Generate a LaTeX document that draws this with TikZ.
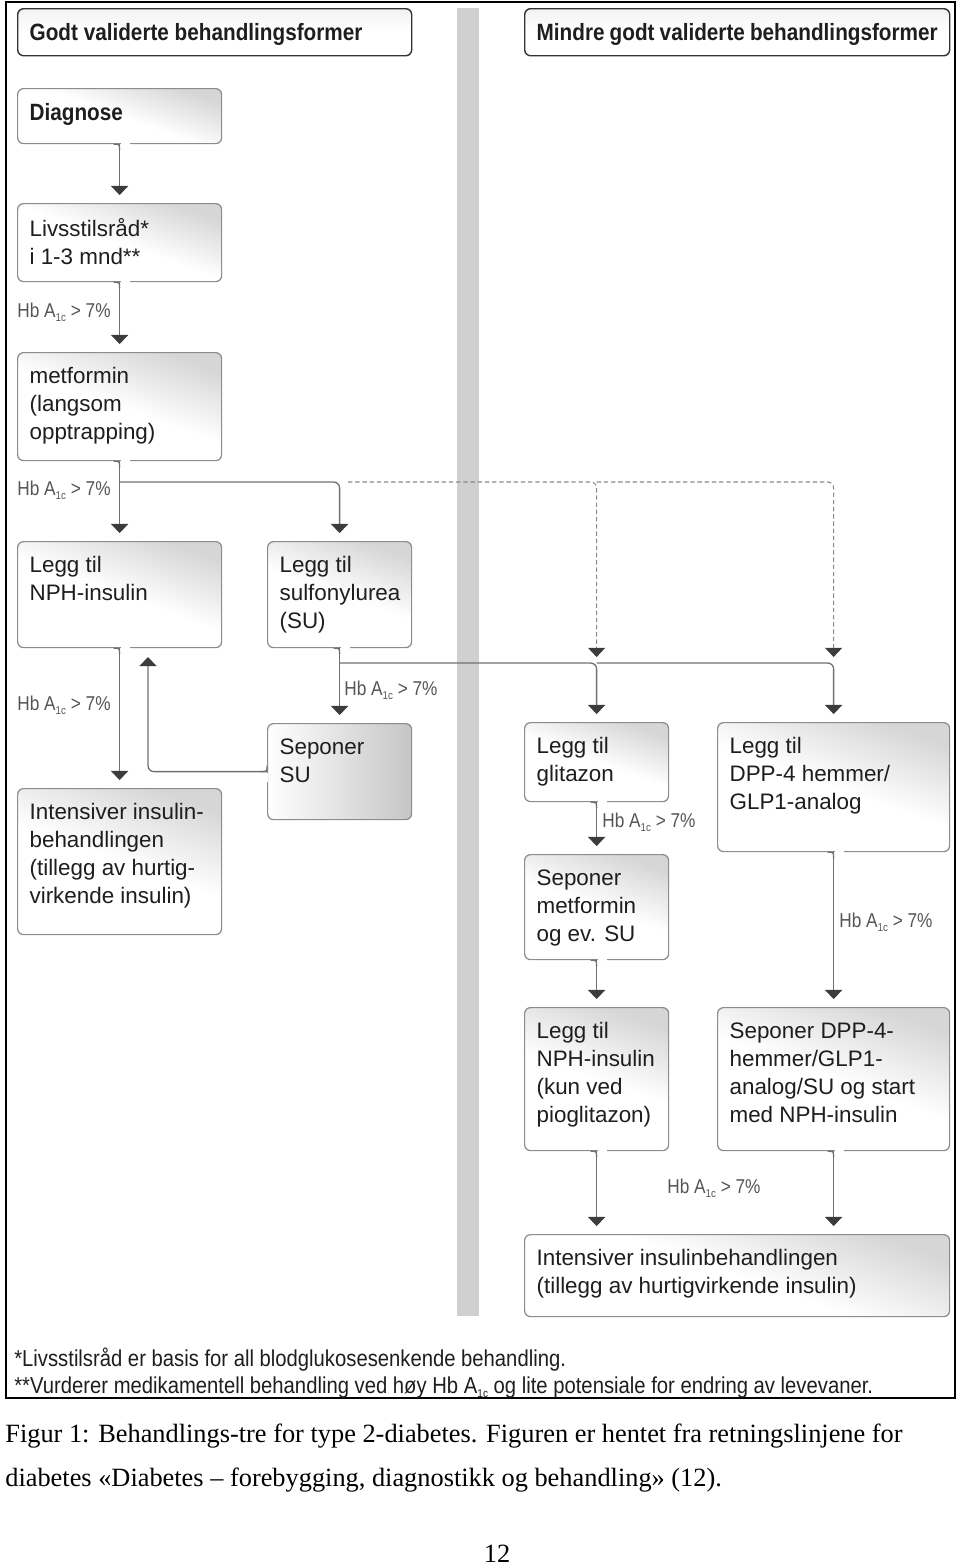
\documentclass[tikz,border=0pt]{standalone}
\usepackage{fontspec}
\setmainfont{Liberation Sans}
\newfontfamily\headfont[FakeStretch=0.88]{Liberation Sans}
\newfontfamily\hbfont[FakeStretch=0.86]{Liberation Sans}
\newfontfamily\notefont[FakeStretch=0.88]{Liberation Sans}
\newfontfamily\capfont{Liberation Serif}
\usetikzlibrary{arrows.meta}

\definecolor{linegray}{HTML}{707070}
\definecolor{dashgray}{HTML}{8A8A8A}
\definecolor{tipgray}{HTML}{3C3C3C}
\definecolor{framegray}{HTML}{8C8C8C}
\definecolor{bargray}{HTML}{D0D0D0}
\definecolor{labelgray}{HTML}{555555}
\definecolor{textblack}{HTML}{1E1E1E}

\newlength\px
\setlength\px{0.02cm}
% text block of a step box, arguments are the box width and height in px
\newcommand\boxtxt[3]{\parbox[t][\dimexpr#2\px-30\px\relax][t]{\dimexpr#1\px-24\px\relax}{\raggedright #3}}
% small lowered index
\newcommand\lowidx[1]{\raisebox{-2.8pt}{\fontsize{6.5pt}{7pt}\selectfont #1}}
\newcommand\hba{Hb A\lowidx{1c} > 7\%}

\tikzset {
  flow path/.style = {
    draw = linegray,
    line width = 0.75pt,
    rounded corners = 3.4pt
  },
  % connector with a filled tip
  arr/.style = {
    flow path,
    -{Triangle[width=9.7pt,length=5.2pt,color=tipgray]},
    shorten > = 4.5pt
  },
  % dashed connector, ends at a coordinate
  darr/.style = {
    arr,
    draw = dashgray,
    line width = 0.6pt,
    dash pattern = on 2.5pt off 1.6pt,
    shorten > = 0pt
  }
}
\tikzset {
  stepbox/.style = {
    draw = framegray,
    line width = 0.7pt,
    rounded corners = 3.4pt,
    top color = gray!32,
    bottom color = white,
    middle color = white,
    shading angle = -20,
    anchor = north west,
    inner xsep = 12\px,
    inner ysep = 15\px,
    text = textblack,
    font = \fontsize{12.75pt}{15.93pt}\selectfont
  },
  % box with the gray to the right
  sidebox/.style = {
    stepbox,
    left color = white,
    right color = gray!45
  },
  boldbox/.style = {
    stepbox,
    font = \headfont\bfseries\fontsize{13.4pt}{16pt}\selectfont
  },
  headbox/.style = {
    boldbox,
    draw = black!80,
    line width = 0.8pt,
    top color = gray!10,
    bottom color = white,
    middle color = white
  },
  % Hb A1c condition
  hb/.style = {
    inner sep = 0,
    text = labelgray,
    font = \hbfont\fontsize{11.4pt}{13pt}\selectfont
  },
  note/.style = {
    inner sep = 0,
    text = textblack,
    font = \notefont\fontsize{13.1pt}{15pt}\selectfont
  },
  caption/.style = {
    inner sep = 0,
    font = \capfont\fontsize{15pt}{25pt}\selectfont
  }
}

\begin{document}
\begin{tikzpicture}[x=0.02cm, y=-0.02cm]
    \useasboundingbox (0,0) rectangle (960,1565);
    \draw[line width=1.1pt] (6,2) rectangle (955,1398);
    \fill[bargray] (457,8) rectangle (479,1316);

    \node[headbox] (goodhead) at (17,8) {\boxtxt{394}{42}{Godt validerte behandlingsformer}};
    \node[headbox] (lesshead) at (524,8) {\boxtxt{425}{42}{Mindre godt validerte behandlingsformer}};

    % left column
    \node[boldbox] (diag) at (17,88) {\boxtxt{204}{55}{Diagnose}};
    \node[stepbox] (livs) at (17,203) {\boxtxt{204}{78}{Livsstilsråd*\\i 1-3 mnd**}};
    \node[stepbox] (metf) at (17,352) {\boxtxt{204}{108}{metformin\\(langsom\\opptrapping)}};
    \node[stepbox] (nph) at (17,541) {\boxtxt{204}{106}{Legg til\\NPH-insulin}};
    \node[stepbox] (inta) at (17,788) {\boxtxt{204}{146}{Intensiver insulin-\\behandlingen\\(tillegg av hurtig-\\virkende insulin)}};
    \node[stepbox] (sulf) at (267,541) {\boxtxt{144}{106}{Legg til\\sulfonylurea\\(SU)}};
    \node[sidebox] (sepsu) at (267,723) {\boxtxt{144}{96}{Seponer\\SU}};

    % right column
    \node[stepbox] (glit) at (524,722) {\boxtxt{144}{79}{Legg til\\glitazon}};
    \node[stepbox] (sepmet) at (524,854) {\boxtxt{144}{105}{Seponer\\metformin\\og ev. SU}};
    \node[stepbox] (nphb) at (524,1007) {\boxtxt{144}{143}{Legg til\\NPH-insulin\\(kun ved\\pioglitazon)}};
    \node[stepbox] (dpp) at (717,722) {\boxtxt{232}{129}{Legg til\\DPP-4 hemmer/\\GLP1-analog}};
    \node[stepbox] (sepdpp) at (717,1007) {\boxtxt{232}{143}{Seponer DPP-4-\\hemmer/GLP1-\\analog/SU og start\\med NPH-insulin}};
    \node[stepbox] (intb) at (524,1234) {\boxtxt{425}{82}{Intensiver insulinbehandlingen\\(tillegg av hurtigvirkende insulin)}};

    % open the box edge where a connector leaves
    \foreach \bx in {diag,livs,metf,nph,sulf,glit,sepmet,dpp,nphb,sepdpp} {
      \fill[white] ([xshift=0.6pt,yshift=-0.8pt]\bx.south) rectangle ([xshift=6pt,yshift=0.8pt]\bx.south);
      \draw[flow path] ([xshift=-3.4pt]\bx.south) .. controls (\bx.south) .. ([yshift=-3.4pt]\bx.south);
    }
    \fill[white] ([xshift=-0.8pt,yshift=-0.6pt]sepsu.west) rectangle ([xshift=0.8pt,yshift=-6pt]sepsu.west);
    \draw[flow path] ([yshift=3.4pt]sepsu.west) .. controls (sepsu.west) .. ([xshift=-3.4pt]sepsu.west);

    \coordinate (row1) at (0,482);
    \coordinate (bus) at (0,663);
    \coordinate (dashend) at (0,657);
    \coordinate (dashstart) at (348,482);
    \coordinate (back) at (148,657);

    \draw[arr] (diag.south) -- (livs.north);
    \draw[arr] (livs.south) -- (metf.north);
    \draw[arr] (metf.south) -- (nph.north);
    \draw[arr] (metf.south |- row1) -| (sulf.north);
    \draw[darr] (dashstart) -| (glit.north |- dashend);
    \draw[darr] (glit.north |- row1) -| (dpp.north |- dashend);
    \draw[arr] (sulf.south) -- (sepsu.north);
    \draw[arr] (sulf.south |- bus) -| (glit.north);
    \draw[arr] (glit.north |- bus) -| (dpp.north);
    \draw[arr] (nph.south) -- (inta.north);
    \draw[arr, shorten >=0pt] (sepsu.west) -| (back);
    \draw[arr] (glit.south) -- (sepmet.north);
    \draw[arr] (sepmet.south) -- (nphb.north);
    \draw[arr] (dpp.south) -- (sepdpp.north);
    \draw[arr] (nphb.south) -- (nphb.south |- intb.north);
    \draw[arr] (sepdpp.south) -- (sepdpp.south |- intb.north);

    \node[hb, anchor=base east] (hb-livs) at (111,317) {\hba};
    \node[hb, anchor=base east] (hb-metf) at (111,495) {\hba};
    \node[hb, anchor=base east] (hb-nph) at (111,710) {\hba};
    \node[hb, anchor=base west] (hb-sulf) at (344,695) {\hba};
    \node[hb, anchor=base west] (hb-glit) at (602,827) {\hba};
    \node[hb, anchor=base west] (hb-dpp) at (839,927) {\hba};
    \node[hb, anchor=base west] (hb-end) at (667,1193) {\hba};

    \node[note, anchor=base west] (note1) at (14,1366) {*Livsstilsråd er basis for all blodglukosesenkende behandling.};
    \node[note, anchor=base west] (note2) at (14,1393) {**Vurderer medikamentell behandling ved høy Hb A\lowidx{1c} og lite potensiale for endring av levevaner.};

    \node[caption, anchor=base west] (cap1) at (5,1442) {Figur 1: Behandlings-tre for type 2-diabetes. Figuren er hentet fra retningslinjene for};
    \node[caption, anchor=base west] (cap2) at (5,1486) {diabetes «Diabetes – forebygging, diagnostikk og behandling» (12).};
    \node[caption, anchor=base] (pageno) at (497,1562) {12};
\end{tikzpicture}
\end{document}
